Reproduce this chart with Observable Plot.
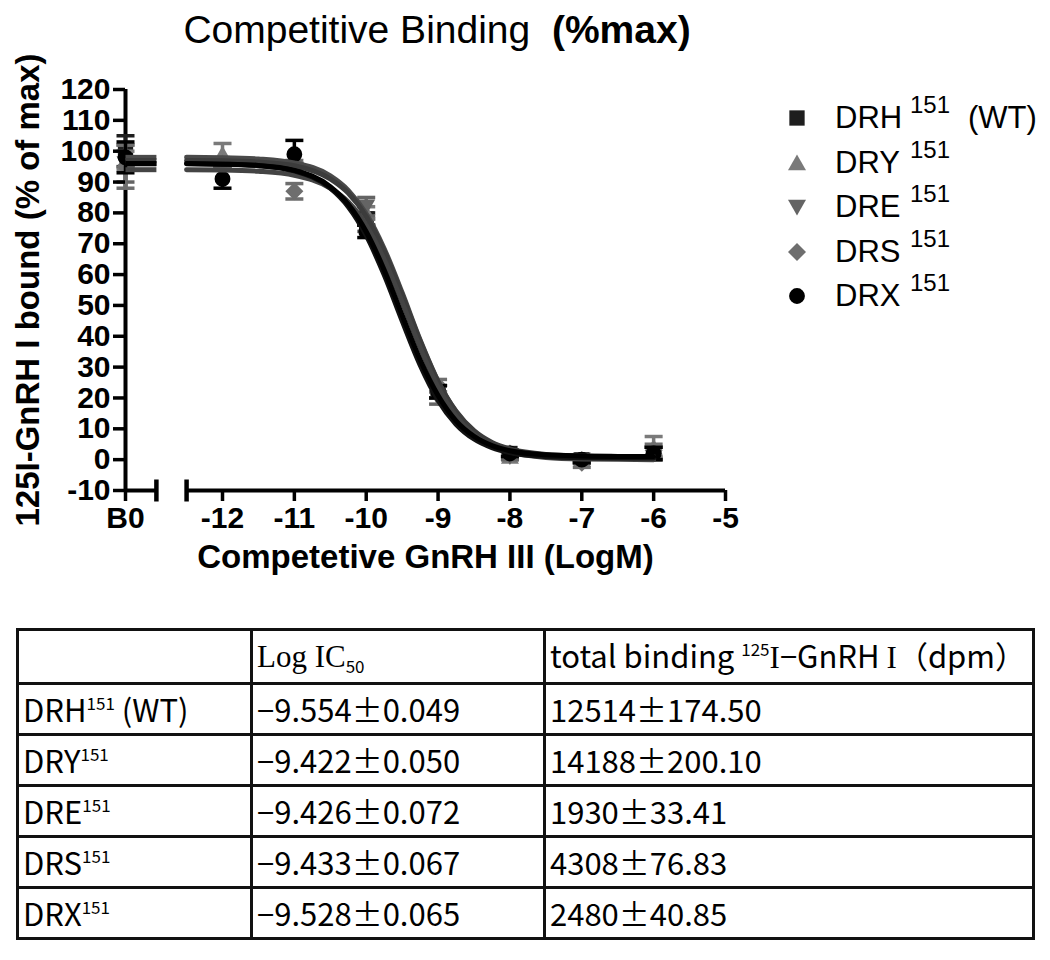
<!DOCTYPE html>
<html>
<head>
<meta charset="utf-8">
<script src="https://cdn.jsdelivr.net/npm/d3@7"></script>
<script src="https://cdn.jsdelivr.net/npm/@observablehq/plot@0.6"></script>
<style>
  body { margin: 0; background: #fff; }
  #wrap { position: relative; width: 1050px; height: 960px; overflow: hidden; font-family: "Liberation Sans", Arial, sans-serif; color: #000; }
  #title { position: absolute; left: 0; top: 8px; width: 874px; text-align: center; font-size: 39px; white-space: pre; }
  #chart { position: absolute; left: 0; top: 60px; }
  #legend { position: absolute; left: 785px; top: 96px; }
  .lrow { display: flex; align-items: center; height: 44.5px; }
  .lsym { width: 24px; height: 24px; margin-right: 26px; }
  .lname { font-size: 31px; width: 75px; }
  .lsup { font-size: 24px; position: relative; top: -13px; width: 58px; }
  .lwt { font-size: 31px; }
  #tbl { position: absolute; left: 16px; top: 628px; border-collapse: collapse; table-layout: fixed;
         font-family: "Noto Sans CJK JP", sans-serif; font-size: 31px; }
  #tbl td { border: 3px solid #111; padding: 0 4px; white-space: nowrap; overflow: hidden; vertical-align: middle; line-height: 1.1; }
  #tbl tr.h td { height: 51px; }
  #tbl tr.r td { height: 48px; }
  .serif { font-family: "Liberation Serif", "DejaVu Serif", serif; }
  .sub { font-size: 17px; vertical-align: -6px; }
  .sup { font-size: 17px; vertical-align: 12px; }
</style>
</head>
<body>
<div id="wrap">
  <div id="title">Competitive Binding  <b>(%max)</b></div>
  <div id="chart"></div>
  <div id="legend"></div>
  <table id="tbl"></table>
</div>
<script>
// ---------- data ----------
const series = ["DRH", "DRY", "DRE", "DRS", "DRX"];
const legendSup = ["151", "151", "151", "151", "151"];
const legendExtra = ["(WT)", "", "", "", ""];

// x positions of the measured doses (B0 = no competitor, drawn left of the axis break)
const B0X = -13.35;
const breakL = -12.92;
const breakR = -12.5;
const doseX = [B0X, -12, -11, -10, -9, -8, -7, -6];

const xTicks = [B0X, -12, -11, -10, -9, -8, -7, -6, -5];
const xTickLabels = ["B0", "-12", "-11", "-10", "-9", "-8", "-7", "-6", "-5"];
const yTicks = [-10, 0, 10, 20, 30, 40, 50, 60, 70, 80, 90, 100, 110, 120];
const yTickLabels = ["-10", "0", "10", "20", "30", "40", "50", "60", "70", "80", "90", "100", "110", "120"];

// mean % of max
const drhPoints = [100, 96, 95, 78, 22, 2, 0, 2];
const dryPoints = [97, 99, 96, 80, 22, 1, 0, 4];
const drePoints = [96, 96, 95, 82, 20, 1, 0, 2];
const drsPoints = [95, 96, 87, 76, 24, 2, -1, 3];
const drxPoints = [98, 91, 99, 74, 22, 2, 0, 2];

// SEM
const drhErr = [5, 1, 1, 2, 2, 1, 1, 2];
const dryErr = [3, 3.5, 1, 2, 2, 1, 1, 3.5];
const dreErr = [6, 1, 1, 3, 2, 1, 1, 2];
const drsErr = [7, 1, 2.5, 2, 2, 1, 1.5, 2];
const drxErr = [5, 3, 4.5, 2, 2, 1, 1, 2];

// fitted curves
const curveX = [-12.5, -12, -11.5, -11, -10.5, -10.25, -10, -9.75, -9.5, -9.25, -9, -8.75, -8.5, -8.25, -8, -7.5, -7, -6.5, -6];
const drhCurve = [95.9, 95.8, 95.3, 93.6, 88.0, 82.0, 72.7, 59.9, 45.0, 30.7, 19.3, 11.5, 6.7, 3.9, 2.3, 1.0, 0.6, 0.5, 0.5];
const dryCurve = [98.0, 97.9, 97.5, 96.2, 92.0, 87.3, 79.7, 68.4, 54.1, 38.8, 25.4, 15.5, 9.1, 5.3, 3.1, 1.2, 0.7, 0.6, 0.5];
const dreCurve = [97.0, 96.9, 96.5, 95.3, 91.0, 86.4, 78.8, 67.6, 53.5, 38.5, 25.3, 15.7, 9.4, 5.6, 3.5, 1.7, 1.2, 1.05, 1.0];
const drsCurve = [94.0, 93.9, 93.5, 92.2, 88.0, 83.5, 76.0, 64.9, 51.0, 36.3, 23.5, 14.1, 8.1, 4.5, 2.5, 0.7, 0.2, 0.1, 0.0];
const drxCurve = [96.0, 95.8, 95.4, 93.8, 88.5, 82.8, 73.9, 61.5, 46.8, 32.4, 20.8, 12.6, 7.6, 4.6, 2.9, 1.6, 1.2, 1.05, 1.0];

// table
const logIC50Mean = [-9.554, -9.422, -9.426, -9.433, -9.528];
const logIC50Err = [0.049, 0.050, 0.072, 0.067, 0.065];
const totalMean = [12514, 14188, 1930, 4308, 2480];
const totalErr = [174.50, 200.10, 33.41, 76.83, 40.85];

const yTitle = "125I-GnRH I bound (% of max)";
const xTitle = "Competetive GnRH III (LogM)";

// ---------- styling ----------
const colors = ["#1e1e1e", "#7a7a7a", "#646464", "#6e6e6e", "#000000"];
const curveColors = ["#111111", "#4a4a4a", "#3c3c3c", "#444444", "#000000"];
const rad = s => Math.sqrt(s / Math.PI);
const symSquare = { draw(c, s) { const r = rad(s) * 0.85; c.rect(-r, -r, 2 * r, 2 * r); } };
const symUp = { draw(c, s) { const r = rad(s); c.moveTo(0, -0.95 * r); c.lineTo(r, 0.8 * r); c.lineTo(-r, 0.8 * r); c.closePath(); } };
const symDown = { draw(c, s) { const r = rad(s); c.moveTo(-r, -0.8 * r); c.lineTo(r, -0.8 * r); c.lineTo(0, 0.95 * r); c.closePath(); } };
const symDiamond = { draw(c, s) { const r = rad(s); c.moveTo(0, -r); c.lineTo(r, 0); c.lineTo(0, r); c.lineTo(-r, 0); c.closePath(); } };
const symCircle = { draw(c, s) { const r = rad(s) * 0.88; c.moveTo(r, 0); c.arc(0, 0, r, 0, 2 * Math.PI); } };
const hLine = { draw(c, s) { const r = rad(s); c.moveTo(-r, 0); c.lineTo(r, 0); } };
const vLine = { draw(c, s) { const r = rad(s); c.moveTo(0, -r); c.lineTo(0, r); } };
const symbols = [symSquare, symUp, symDown, symDiamond, symCircle];

const points = [drhPoints, dryPoints, drePoints, drsPoints, drxPoints];
const errs = [drhErr, dryErr, dreErr, drsErr, drxErr];
const curves = [drhCurve, dryCurve, dreCurve, drsCurve, drxCurve];

const marks = [];
// axis lines with break
marks.push(Plot.ruleX([B0X], { y1: -10, y2: 120, strokeWidth: 4 }));
marks.push(Plot.ruleY([-10], { x1: B0X, x2: breakL, strokeWidth: 4 }));
marks.push(Plot.ruleY([-10], { x1: breakR, x2: -5, strokeWidth: 4 }));
marks.push(Plot.dot([breakL, breakR], { x: d => d, y: -10, symbol: vLine, r: 11, stroke: "black", strokeWidth: 4.5, fill: "none" }));

series.forEach((s, i) => {
  const rows = doseX.map((x, j) => ({ x, y: points[i][j], e: errs[i][j] }));
  marks.push(Plot.ruleX(rows, { x: "x", y1: d => d.y - d.e, y2: d => d.y + d.e, stroke: colors[i], strokeWidth: 3.5 }));
  marks.push(Plot.dot(rows, { x: "x", y: d => d.y + d.e, symbol: hLine, r: 9, stroke: colors[i], strokeWidth: 3.5, fill: "none" }));
  marks.push(Plot.dot(rows, { x: "x", y: d => d.y - d.e, symbol: hLine, r: 9, stroke: colors[i], strokeWidth: 3.5, fill: "none" }));
  marks.push(Plot.dot(rows, { x: "x", y: "y", symbol: symbols[i], r: 9, fill: colors[i], stroke: "none" }));
});

[1, 2, 3, 0, 4].forEach(i => {
  const rows = curveX.map((x, j) => ({ x, y: curves[i][j] }));
  marks.push(Plot.line(rows, { x: "x", y: "y", curve: "monotone-x", stroke: curveColors[i], strokeWidth: 5 }));
  const b0rows = [{ x: B0X, y: curves[i][0] }, { x: breakL, y: curves[i][0] }];
  marks.push(Plot.line(b0rows, { x: "x", y: "y", stroke: curveColors[i], strokeWidth: 5, strokeLinecap: "butt" }));
});

marks.push(Plot.axisY({ ticks: yTicks, tickSize: 12, tickPadding: 3, strokeWidth: 3.5, fontSize: 30, fontWeight: "bold", label: null,
  tickFormat: d => yTickLabels[yTicks.indexOf(d)] }));
marks.push(Plot.axisX({ ticks: xTicks, tickSize: 11, tickPadding: 5, strokeWidth: 3.5, fontSize: 30, fontWeight: "bold", label: null,
  tickFormat: d => xTickLabels[xTicks.indexOf(d)] }));
marks.push(Plot.text([yTitle], { frameAnchor: "left", textAnchor: "middle", rotate: -90, dx: -97, fontSize: 33, fontWeight: "bold" }));
marks.push(Plot.text([xTitle], { frameAnchor: "bottom", textAnchor: "middle", dy: 77, fontSize: 33, fontWeight: "bold" }));

const chart = Plot.plot({
  width: 760, height: 540,
  marginLeft: 125, marginRight: 35, marginTop: 29, marginBottom: 110,
  x: { domain: [B0X, -5] },
  y: { domain: [-10, 120] },
  style: { fontFamily: '"Liberation Sans", Arial, sans-serif', color: "black", background: "white", overflow: "visible" },
  marks
});
document.getElementById("chart").appendChild(chart);

// ---------- legend ----------
const legend = document.getElementById("legend");
series.forEach((s, i) => {
  const row = document.createElement("div");
  row.className = "lrow";
  const path = d3.symbol(symbols[i], 81 * Math.PI)();
  row.innerHTML = `<svg class="lsym" viewBox="-12 -12 24 24"><path d="${path}" fill="${colors[i]}"/></svg>` +
    `<span class="lname">${s}</span><span class="lsup">${legendSup[i]}</span><span class="lwt">${legendExtra[i]}</span>`;
  legend.appendChild(row);
});

// ---------- table ----------
const fmtIC = (m, e) => (m < 0 ? "\u2212" : "") + Math.abs(m).toFixed(3) + "\u00b1" + e.toFixed(3);
const fmtTot = (m, e) => m + "\u00b1" + e.toFixed(2);
const tbl = document.getElementById("tbl");
let html = `<colgroup><col style="width:234px"><col style="width:293px"><col style="width:489px"></colgroup>`;
html += `<tr class="h"><td></td><td><span class="serif">Log IC</span><span class="sub">50</span></td>` +
  `<td>total binding <span class="sup">125</span><span class="serif">I</span>\u2212GnRH <span class="serif">I</span>\uff08dpm\uff09</td></tr>`;
series.forEach((s, i) => {
  const extra = legendExtra[i] ? " " + legendExtra[i] : "";
  html += `<tr class="r"><td>${s}<span class="sup">${legendSup[i]}</span>${extra}</td>` +
    `<td>${fmtIC(logIC50Mean[i], logIC50Err[i])}</td><td>${fmtTot(totalMean[i], totalErr[i])}</td></tr>`;
});
tbl.innerHTML = html;
</script>
</body>
</html>
